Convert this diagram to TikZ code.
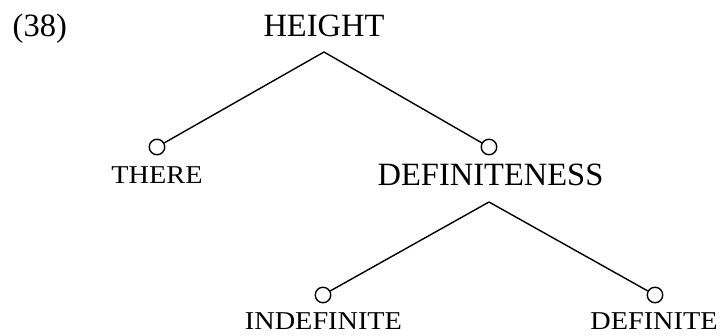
\documentclass[tikz,border=0pt]{standalone}
\usepackage{fontspec}
\setmainfont{Liberation Serif}
\newfontfamily\scfont[FakeStretch=1.1]{Liberation Serif}
\begin{document}
\begin{tikzpicture}[x=1pt,y=-1pt,
  lbl/.style={inner sep=0pt,anchor=base,font=\fontsize{32.5}{38}\selectfont},
  sclbl/.style={inner sep=0pt,anchor=base,font=\scfont\fontsize{25.7}{30}\selectfont},
  knot/.style={circle,draw,line width=1.4pt,minimum size=15.5pt,inner sep=0pt},
  edge/.style={line width=1.4pt}]
\useasboundingbox (0,0) rectangle (720,335);
\node[lbl,anchor=base west] (num) at (12.5,36.7) {(38)};
\node[lbl] (height) at (324,36.7) {HEIGHT};
\coordinate (a1) at (324,52);
\node[knot] (c1) at (157,147) {};
\node[knot] (c2) at (489,147) {};
\node[sclbl] (there) at (157,183.5) {THERE};
\node[lbl] (def) at (490.5,185.5) {DEFINITENESS};
\coordinate (a2) at (489,202);
\node[knot] (c3) at (323,295) {};
\node[knot] (c4) at (655,295) {};
\node[sclbl] (indef) at (323.5,329) {INDEFINITE};
\node[sclbl] (defin) at (654,329) {DEFINITE};
\draw[edge] (a1) -- (c1);
\draw[edge] (a1) -- (c2);
\draw[edge] (a2) -- (c3);
\draw[edge] (a2) -- (c4);
\end{tikzpicture}
\end{document}
